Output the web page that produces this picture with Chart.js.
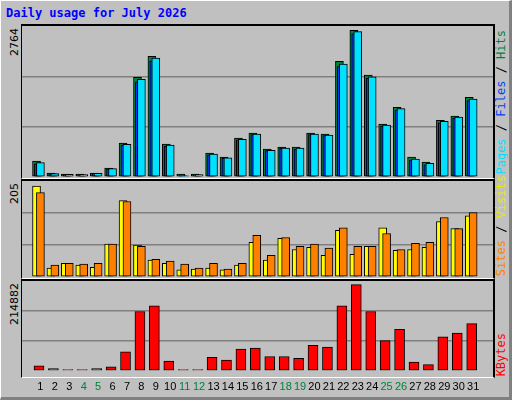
<!DOCTYPE html>
<html><head><meta charset="utf-8">
<script src="https://cdn.jsdelivr.net/npm/chart.js@4/dist/chart.umd.min.js"></script>
<style>
body{margin:0;background:#c0c0c0;}
#frame{position:absolute;left:0;top:0;width:508px;height:396px;background:#c0c0c0;border-top:1px solid #fff;border-left:1px solid #fff;border-right:3px solid #808080;border-bottom:3px solid #808080;outline:1px solid #000;}
.title{position:absolute;left:6px;top:6px;font:bold 12px "DejaVu Sans Mono",monospace;color:#0000ff;}
.panel{position:absolute;left:21px;width:471px;background:#c0c0c0;border-top:2px solid #000;border-left:1px solid #000;border-right:2px solid #000;border-bottom:1px solid #fff;}
canvas{position:absolute;}
.v{position:absolute;writing-mode:vertical-rl;transform:rotate(180deg);white-space:nowrap;}
.lm{font:11px "DejaVu Sans",sans-serif;color:#000;left:8px;}
.lg{font:12px "DejaVu Sans Mono",monospace;left:494px;}
</style></head><body>
<div id="frame"></div>
<div class="title">Daily usage for July 2026</div>
<div class="panel" style="top:24px;height:152px"></div>
<div class="panel" style="top:179px;height:97px"></div>
<div class="panel" style="top:279px;height:96px"></div>
<canvas id="c1" style="left:22px;top:26px;width:471px;height:151px"></canvas>
<canvas id="c2" style="left:22px;top:181px;width:471px;height:96px"></canvas>
<canvas id="c3" style="left:22px;top:281px;width:471px;height:115px"></canvas>
<div class="v lm" style="top:28px">2764</div>
<div class="v lm" style="top:183px">205</div>
<div class="v lm" style="top:283px">214882</div>
<div class="v lg" style="bottom:225px"><span style="color:#00e0ff">Pages</span> / <span style="color:#0040ff">Files</span> / <span style="color:#008040">Hits</span></div>
<div class="v lg" style="bottom:124px"><span style="color:#ff8000">Sites</span> / <span style="color:#e8e800">Visits</span></div>
<div class="v lg" style="bottom:24px"><span style="color:#ff0000">KBytes</span></div>
<script>
const days=[1,2,3,4,5,6,7,8,9,10,11,12,13,14,15,16,17,18,19,20,21,22,23,24,25,26,27,28,29,30,31];
const weekendDays=[4,5,11,12,18,19,25,26];
const hits=[300,75,55,55,75,170,640,1880,2275,620,55,55,450,375,735,830,525,565,565,830,810,2180,2764,1920,1000,1315,375,280,1070,1150,1500];
const files=[250,60,45,40,70,150,600,1790,2180,580,25,35,420,350,700,800,500,540,520,800,780,2080,2700,1860,960,1260,320,230,1020,1110,1440];
const pages=[270,65,50,45,70,160,615,1840,2240,600,20,45,430,360,710,810,505,545,545,810,790,2130,2740,1890,980,1290,340,260,1050,1130,1470];
const visits=[205,20,31,27,22,74,172,72,38,31,16,18,20,16,27,78,38,87,62,67,49,105,51,69,111,60,62,67,125,109,138];
const sites=[190,27,31,29,31,74,170,69,40,36,29,20,31,18,31,94,49,89,69,74,65,111,69,69,98,62,76,78,134,109,145];
const kbytes=[12460,5450,3100,3100,5450,10100,47500,147900,161900,24100,3100,3100,33500,26500,54500,56800,35800,35800,31100,63800,59200,161900,214882,147900,75500,103500,21800,15600,84900,94200,117600];

const pts=(arr,off)=>arr.map((v,i)=>({x:days[i]+off,y:v}));
function ds(arr,off,color,w){return {data:pts(arr,off),backgroundColor:color,borderColor:'#000',borderWidth:1,borderSkipped:false,barThickness:w,grouped:false};}
function opts(max,showX){
  return {responsive:false,animation:false,devicePixelRatio:1,
    layout:{padding:0},
    plugins:{legend:{display:false},tooltip:{enabled:false}},
    scales:{
      x:{type:'linear',min:0.25,max:31.85,display:showX,grid:{display:false},border:{display:false},
        afterBuildTicks:a=>{a.ticks=days.map(d=>({value:d}));},
        ticks:{autoSkip:false,maxRotation:0,padding:2,font:{family:'Liberation Sans',size:11},
          color:c=>weekendDays.includes(c.tick.value)?'#008040':'#000'}},
      y:{min:0,max:max,display:true,border:{display:false},
        afterFit:s=>{s.width=0;},
        ticks:{display:false,padding:0,stepSize:max/3},
        grid:{drawTicks:false,color:c=>(c.tick.value>0&&c.tick.value<max*0.99)?'#808080':'rgba(0,0,0,0)',lineWidth:1.5}}
    }};
}
function mk(id,w,h,datasets,max,showX){
  const c=document.getElementById(id);c.width=w;c.height=h;
  new Chart(c,{type:'bar',data:{datasets},options:opts(max,showX)});
}
mk('c1',471,151,[ds(pages,0,'#00e0ff',8),ds(files,-0.14,'#0040ff',8),ds(hits,-0.27,'#008040',8)],Math.max(...hits)*1.03,false);
mk('c2',471,96,[ds(sites,0,'#ff8000',8),ds(visits,-0.27,'#ffff00',8)],Math.max(...sites,...visits)*1.055,false);
mk('c3',471,115,[ds(kbytes,-0.1,'#ff0000',10)],Math.max(...kbytes)*1.043,true);
</script>
</body></html>
